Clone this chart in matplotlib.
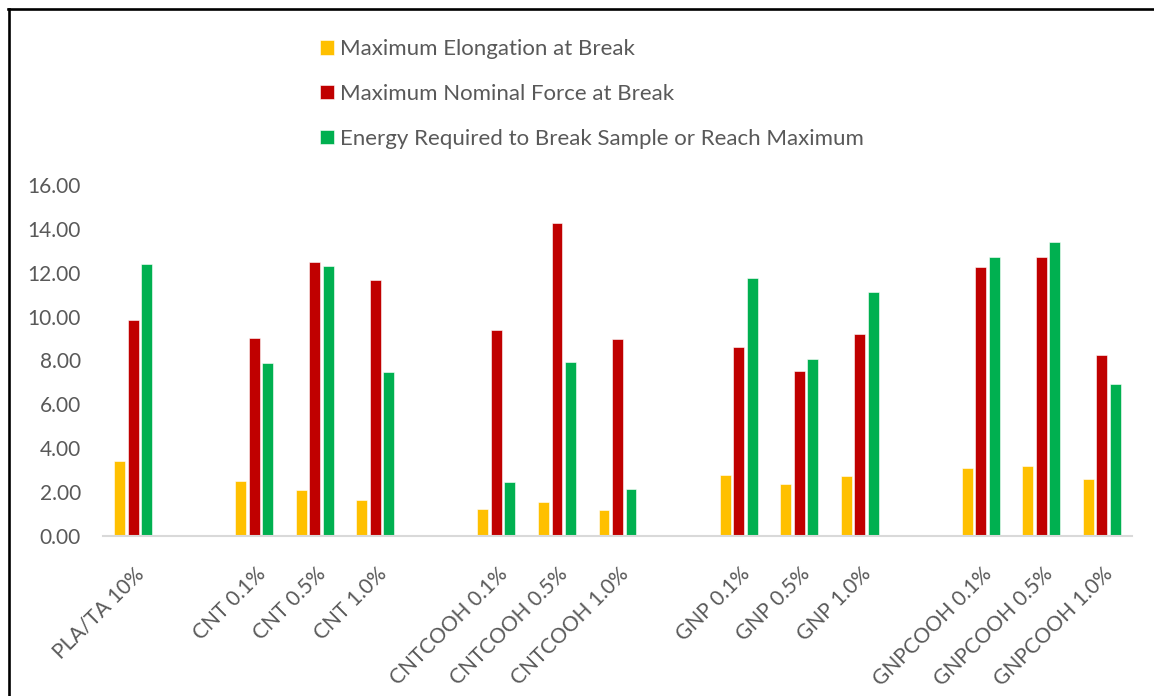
import numpy as np
import matplotlib
matplotlib.use("Agg")
import matplotlib.pyplot as plt
from matplotlib.lines import Line2D
from matplotlib.transforms import ScaledTranslation

plt.rcParams['font.family'] = ['Lato', 'DejaVu Sans']

# Category slots (empty strings are spacer slots between sample families)
categories = ["PLA/TA 10%", "",
              "CNT 0.1%", "CNT 0.5%", "CNT 1.0%", "",
              "CNTCOOH 0.1%", "CNTCOOH 0.5%", "CNTCOOH 1.0%", "",
              "GNP 0.1%", "GNP 0.5%", "GNP 1.0%", "",
              "GNPCOOH 0.1%", "GNPCOOH 0.5%", "GNPCOOH 1.0%"]

nan = np.nan
elongation = [3.41, nan, 2.50, 2.09, 1.63, nan, 1.22, 1.55, 1.19, nan,
              2.77, 2.37, 2.73, nan, 3.08, 3.18, 2.59]
force = [9.86, nan, 9.01, 12.51, 11.68, nan, 9.38, 14.29, 8.97, nan,
         8.60, 7.52, 9.19, nan, 12.27, 12.73, 8.27]
energy = [12.42, nan, 7.89, 12.31, 7.48, nan, 2.45, 7.93, 2.16, nan,
          11.77, 8.05, 11.11, nan, 12.73, 13.41, 6.93]

series_names = ["Maximum Elongation at Break",
                "Maximum Nominal Force at Break",
                "Energy Required to Break Sample or Reach Maximum"]
colors = ["#FFC000", "#C00000", "#00B050"]
yticks = [0, 2, 4, 6, 8, 10, 12, 14, 16]

TEXT = "#595959"
W, H = 1154, 696
fig = plt.figure(figsize=(W / 100, H / 100), dpi=100)
ax = fig.add_axes([103 / W, 1 - 536 / H, (1132 - 103) / W, (536 - 185) / H])

x = np.arange(len(categories))
width = 0.18
step = 0.223
handles = []
for i, (vals, name, col) in enumerate(zip([elongation, force, energy], series_names, colors)):
    b = ax.bar(x + (i - 1) * step, vals, width, color=col, edgecolor="white",
               linewidth=0.4, label=name, zorder=2)
    handles.append(b)

ax.set_xlim(-0.5, len(categories) - 0.5)
ax.set_ylim(0, 16)
ax.set_yticks(yticks)
ax.set_yticklabels([f"{v:.2f}" for v in yticks])
ax.set_xticks(x)
ax.set_xticklabels(categories, rotation=45, ha="right", va="center",
                   rotation_mode="anchor")

for s in ["top", "right", "left"]:
    ax.spines[s].set_visible(False)
ax.spines["bottom"].set_color("#D9D9D9")
ax.spines["bottom"].set_linewidth(1.5)
ax.tick_params(axis="both", length=0, colors=TEXT, labelsize=15)
ax.tick_params(axis="y", pad=16)
ax.tick_params(axis="x", pad=25)
for lab in ax.get_xticklabels():
    lab.set_transform(lab.get_transform() + ScaledTranslation(8 / 100, 0, fig.dpi_scale_trans))

leg = fig.legend(handles=handles, loc="center left",
                 bbox_to_anchor=(320 / W, 1 - 94 / H), frameon=False,
                 fontsize=16, labelcolor=TEXT, handlelength=0.63,
                 handleheight=0.63, handletextpad=0.25, labelspacing=1.12,
                 borderpad=0, borderaxespad=0)

# Chart frame: left and top border lines
fig.add_artist(Line2D([8.5 / W, 8.5 / W], [0, 1 - 8.5 / H], color="black", lw=1.9,
                      transform=fig.transFigure))
fig.add_artist(Line2D([7.5 / W, 1], [1 - 8.5 / H, 1 - 8.5 / H], color="black", lw=1.9,
                      transform=fig.transFigure))

fig.savefig("out.png", dpi=100)
